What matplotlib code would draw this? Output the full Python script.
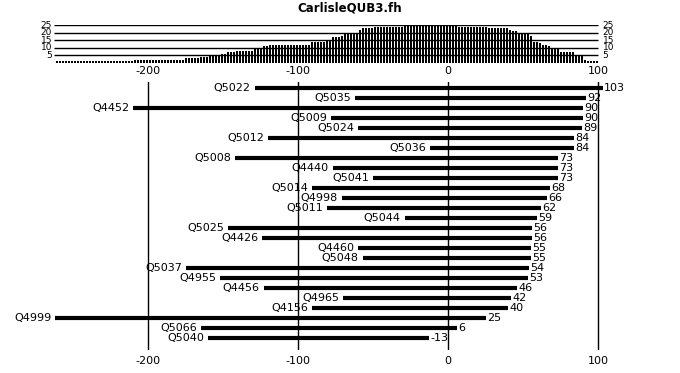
import matplotlib.pyplot as plt
import numpy as np

# interval data, top row first
names = ["Q5022", "Q5035", "Q4452", "Q5009", "Q5024", "Q5012", "Q5036", "Q5008",
         "Q4440", "Q5041", "Q5014", "Q4998", "Q5011", "Q5044", "Q5025", "Q4426",
         "Q4460", "Q5048", "Q5037", "Q4955", "Q4456", "Q4965", "Q4156", "Q4999",
         "Q5066", "Q5040"]
starts = [-129, -62, -210, -78, -60, -120, -12, -142,
          -77, -50, -91, -71, -81, -29, -147, -124,
          -60, -57, -175, -152, -123, -70, -91, -262,
          -165, -160]
ends = [103, 92, 90, 90, 89, 84, 84, 73,
        73, 73, 68, 66, 62, 59, 56, 56,
        55, 55, 54, 53, 46, 42, 40, 25,
        6, -13]
title = "CarlisleQUB3.fh"
xticks = [-200, -100, 0, 100]
hist_levels = [5, 10, 15, 20, 25]

W, H = 680, 373
fig = plt.figure(figsize=(W / 100, H / 100), dpi=100)
plt.rcParams['font.family'] = 'DejaVu Sans'

xlo, xhi = -265, 105
left_px = 448 + xlo * 1.5
width_px = (xhi - xlo) * 1.5

""" main interval panel """
ax = fig.add_axes([left_px / W, 23 / H, width_px / W, 268 / H])
ax.set_xlim(xlo, xhi)
ax.set_ylim(26.2, -0.6)
for x in xticks:
    ax.axvline(x, color='black', lw=1)
rows = np.arange(len(names))
ax.hlines(rows, starts, ends, color='black', lw=3, capstyle='butt')
for i in rows:
    ax.text(starts[i] - 2.5, i, names[i], ha='right', va='center', fontsize=8)
    ax.text(ends[i] + 1.0, i, str(ends[i]), ha='left', va='center', fontsize=8)
ax.set_xticks(xticks)
ax.set_xticklabels([str(x) for x in xticks])
ax.tick_params(axis='x', top=True, labeltop=True, length=0, pad=4, labelsize=8)
ax.set_yticks([])
for s in ax.spines.values():
    s.set_visible(False)

""" coverage histogram on top """
hx = fig.add_axes([left_px / W, (H - 63) / H, width_px / W, 38 / H])
hx.set_xlim(xlo, xhi)
hx.set_ylim(0, 25)
centers = np.arange(-262, 100, 2) + 1
depth = [sum(1 for s, e in zip(starts, ends) if s <= c <= e) for c in centers]
hx.vlines(centers, 0, depth, color='black', lw=1.2, capstyle='butt', antialiased=False)
hx.hlines(hist_levels, -263, 100, color='black', lw=1)
for lv in hist_levels:
    hx.text(-264, lv, str(lv), ha='right', va='center', fontsize=6.5)
    hx.text(103, lv, str(lv), ha='left', va='center', fontsize=6.5)
hx.axis('off')

fig.text(350 / W, 1 - 8 / H, title, ha='center', va='center', fontsize=8.5, fontweight='bold')

fig.savefig("out.png", dpi=100)
